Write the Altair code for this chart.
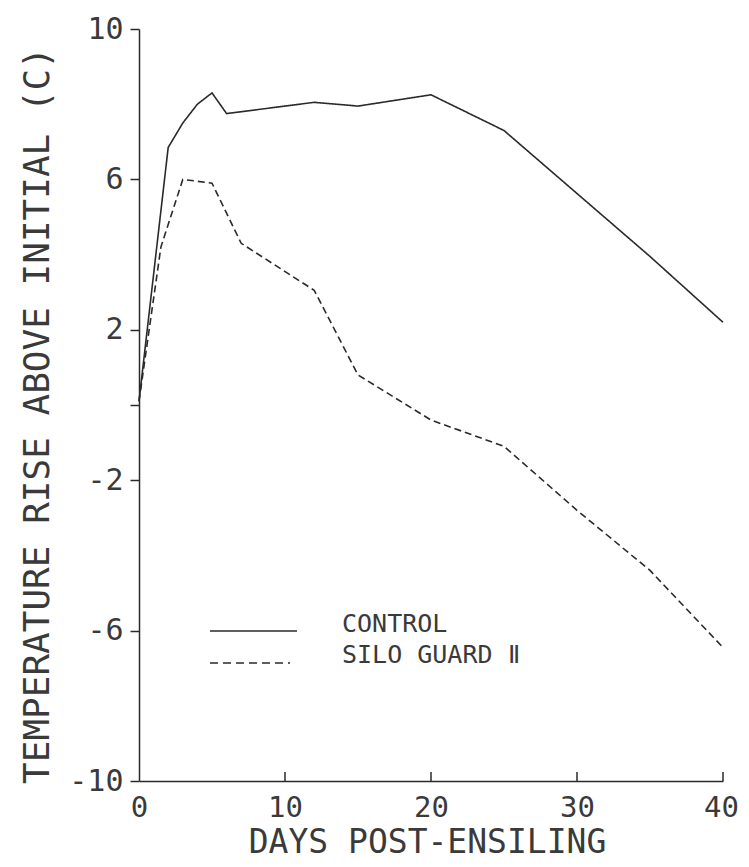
import altair as alt
import pandas as pd

# ---- data ----
SERIES = ["CONTROL", "SILO GUARD Ⅱ"]
CTRL_DAYS = [0, 2, 3, 4, 5, 6, 7, 12, 15, 20, 25, 35, 40]
CTRL_VALS = [0.1, 6.85, 7.5, 8.0, 8.3, 7.75, 7.8, 8.05, 7.95, 8.25, 7.3, 3.95, 2.2]
SG_DAYS = [0, 1.5, 3, 5, 7, 12, 15, 20, 25, 30, 35, 40]
SG_VALS = [0.1, 4.2, 6.0, 5.9, 4.3, 3.05, 0.8, -0.4, -1.1, -2.8, -4.4, -6.45]
X_TICKS = [0, 10, 20, 30, 40]
Y_TICKS = [10, 6, 2, 0, -2, -6, -10]
X_TITLE = "DAYS POST-ENSILING"
Y_TITLE = "TEMPERATURE RISE ABOVE INITIAL (C)"

rows = [{"day": d, "rise": v, "series": SERIES[0]} for d, v in zip(CTRL_DAYS, CTRL_VALS)]
rows += [{"day": d, "rise": v, "series": SERIES[1]} for d, v in zip(SG_DAYS, SG_VALS)]
df = pd.DataFrame(rows)
ticks_df = pd.DataFrame({"day": X_TICKS[1:]})
legend_df = pd.DataFrame({"series": SERIES})

FONT = "DejaVu Sans Mono"
INK = "#2a2a2a"
TXT = "#3a3a3a"
W, H = 584, 752

x_scale = alt.Scale(domain=[0, 40], nice=False, zero=False)
y_scale = alt.Scale(domain=[-10, 10], nice=False, zero=False)

lines = alt.Chart(df).mark_line(color=INK, strokeWidth=1.6).encode(
    x=alt.X(
        "day:Q", scale=x_scale,
        axis=alt.Axis(
            values=X_TICKS, title=X_TITLE, ticks=False, tickSize=0, labelFlush=False,
            labelOffset=alt.condition("datum.value == 40", alt.value(-2), alt.value(0)),
            labelPadding=12, labelFontSize=29, labelFont=FONT, labelColor=TXT,
            titleFont=FONT, titleFontSize=33, titleFontWeight="normal", titleColor=TXT,
            titleX=288, titleY=71, titleBaseline="alphabetic", titleAlign="center",
            grid=False, domainColor=INK, domainWidth=1.5,
        ),
    ),
    y=alt.Y(
        "rise:Q", scale=y_scale,
        axis=alt.Axis(
            values=Y_TICKS, labelExpr="datum.value == 0 ? '' : '' + datum.value",
            title=Y_TITLE, tickSize=9, tickWidth=1.5, tickColor=INK,
            labelPadding=7, labelFontSize=30, labelFont=FONT, labelColor=TXT,
            titleFont=FONT, titleFontSize=36, titleFontWeight="normal", titleColor=TXT,
            titleAngle=270, titleX=-102, titleY=386, titleAlign="center", titleBaseline="middle",
            grid=False, domainColor=INK, domainWidth=1.5,
        ),
    ),
    strokeDash=alt.StrokeDash(
        "series:N", scale=alt.Scale(domain=SERIES, range=[[1, 0], [7, 4]]), legend=None
    ),
)

xticks = alt.Chart(ticks_df).mark_rule(color=INK, strokeWidth=1.5).encode(
    x=alt.X("day:Q", scale=x_scale),
    y=alt.value(H - 9),
    y2=alt.value(H),
)

leg = alt.Chart(legend_df)
leg_solid = leg.transform_filter(alt.datum.series == SERIES[0]).mark_rule(
    color=INK, strokeWidth=1.6
).encode(x=alt.value(71), x2=alt.value(158), y=alt.value(602))
leg_dash = leg.transform_filter(alt.datum.series == SERIES[1]).mark_rule(
    color=INK, strokeWidth=1.6, strokeDash=[8, 5]
).encode(x=alt.value(71), x2=alt.value(151), y=alt.value(634))
leg_t1 = leg.transform_filter(alt.datum.series == SERIES[0]).mark_text(
    font=FONT, fontSize=25, align="left", baseline="alphabetic", color=TXT
).encode(x=alt.value(203), y=alt.value(603), text="series:N")
leg_t2 = leg.transform_filter(alt.datum.series == SERIES[1]).mark_text(
    font=FONT, fontSize=25, align="left", baseline="alphabetic", color=TXT
).encode(x=alt.value(203), y=alt.value(634), text="series:N")

chart = alt.layer(lines, xticks, leg_solid, leg_dash, leg_t1, leg_t2).properties(
    width=W, height=H,
    autosize=alt.AutoSizeParams(type="none"),
    padding={"left": 131, "top": 21, "right": 18, "bottom": 78},
    background="white",
).configure_view(stroke=None)

chart.save("out.html", embed_options={"renderer": "svg", "actions": False})
